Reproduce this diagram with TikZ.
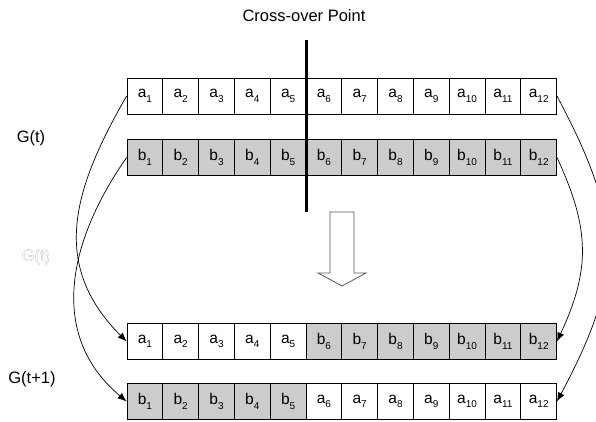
\documentclass[tikz,border=0pt]{standalone}
\usepackage{fontspec}
\setmainfont{Liberation Sans}
\usepackage[outline]{contour}
\contourlength{0.5pt}
\usetikzlibrary{arrows.meta}
\newcommand{\gene}[2]{#1\raisebox{-4.5pt}{\fontsize{10}{10}\selectfont #2}}
\tikzset{
 cell/.style={draw=black, line width=0.7pt, minimum width=35.8pt, minimum height=36pt, inner sep=0pt, font=\fontsize{15.5}{16}\selectfont, anchor=center},
 wcell/.style={cell, fill=white},
 gcell/.style={cell, fill=black!20},
 conn/.style={line width=0.7pt, -{Latex[length=9pt,width=7pt]}},
 lbl/.style={font=\fontsize{16.5}{18}\selectfont, inner sep=0pt},
}
\begin{document}
\begin{tikzpicture}[x=1pt,y=1pt]
\useasboundingbox (0,0) rectangle (596,422);
\foreach \i in {1,...,12}{
  \pgfmathsetmacro{\cx}{144.9+35.8*(\i-1)}
  \node[wcell] (r1c\i) at (\cx,326) {\gene{a}{\i}};
  \node[gcell] (r2c\i) at (\cx,264.5) {\gene{b}{\i}};
  \ifnum\i<6
    \node[wcell] (r3c\i) at (\cx,80.5) {\gene{a}{\i}};
    \node[gcell] (r4c\i) at (\cx,20.5) {\gene{b}{\i}};
  \else
    \node[gcell] (r3c\i) at (\cx,80.5) {\gene{b}{\i}};
    \node[wcell] (r4c\i) at (\cx,20.5) {\gene{a}{\i}};
  \fi
}
% cross-over point
\node[lbl] (cop) at (304,406) {Cross-over Point};
\coordinate (ct) at (306,382);
\coordinate (cb) at (306,210);
\draw[line width=3pt] (ct) -- (cb);
% block arrow
\draw[black!65, line width=0.8pt, fill=white]
  (330,210) -- (354,210) -- (354,149) -- (366,149) -- (342,136) -- (318,149) -- (330,149) -- cycle;
% labels
\node[lbl] (gt) at (31,284) {G(t)};
\node[lbl] (gtg) at (36,165) {\contour{black!60}{\textcolor{white}{G(t)}}};
\node[lbl] (gt1) at (32,43) {G(t+1)};
% connectors
\draw[conn] (r1c1.west) to[out=240,in=135,looseness=1.13] (r3c1.west);
\draw[conn] (r2c1.west) to[out=235,in=140,looseness=1.08] (r4c1.west);
\draw[conn] (r1c12.east) to[out=-62,in=62,looseness=1.2] (r4c12.east);
\draw[conn] (r2c12.east) to[out=-65,in=65,looseness=1.1] (r3c12.east);
\end{tikzpicture}
\end{document}
